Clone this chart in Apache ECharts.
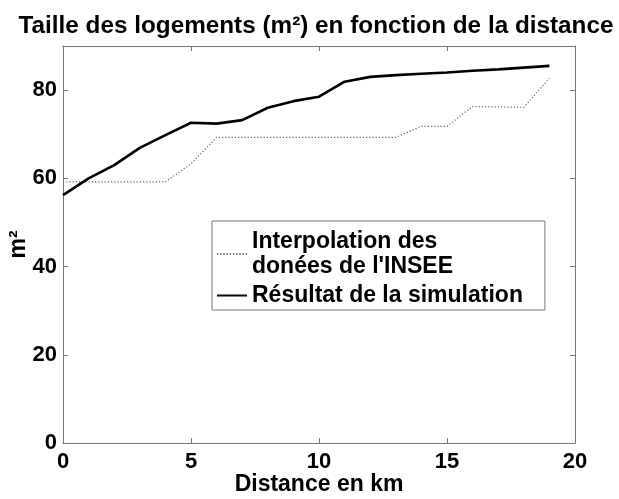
<!DOCTYPE html>
<html>
<head>
<meta charset="utf-8">
<script src="https://cdn.jsdelivr.net/npm/echarts@6/dist/echarts.min.js"></script>
<style>
html,body{margin:0;padding:0;background:#fff;}
#chart{width:619px;height:499px;}
</style>
</head>
<body>
<div id="chart"></div>
<script>
const distances = [0,1,2,3,4,5,6,7,8,9,10,11,12,13,14,15,16,17,18,19];
const insee = [59.2,59.2,59.2,59.2,59.2,63.3,69.3,69.3,69.3,69.3,69.3,69.3,69.3,69.3,71.8,71.8,76.3,76.2,76.1,82.7];
const simulation = [56.2,60.0,63.0,66.9,69.8,72.6,72.4,73.2,76.0,77.5,78.5,81.9,83.0,83.4,83.7,84.0,84.4,84.7,85.1,85.5];
const xTicks = [0,5,10,15,20];
const yTicks = [0,20,40,60,80];

const FONT = '"Liberation Sans", Arial, sans-serif';
const AXC = '#777';

const chart = echarts.init(document.getElementById('chart'), null, {renderer:'canvas'});

function pairs(xs, ys){ return xs.map((x,i)=>[x, ys[i]]); }

const commonLine = {show:true, onZero:false, lineStyle:{color:AXC, width:1}};
const commonTick = {show:true, inside:true, length:5, lineStyle:{color:AXC, width:1}};

chart.setOption({
  backgroundColor:'#fff',
  animation:false,
  title:{
    text:'Taille des logements (m²) en fonction de la distance',
    left:311, top:9, textAlign:'center',
    textStyle:{fontFamily:FONT, fontSize:24.3, fontWeight:'bold', color:'#000'}
  },
  grid:{left:63, right:44, top:46, bottom:56, containLabel:false, outerBoundsMode:'none'},
  xAxis:[{
    type:'value', position:'bottom', min:xTicks[0], max:xTicks[xTicks.length-1], interval:5,
    name:'Distance en km', nameLocation:'middle', nameGap:30, nameMoveOverlap:false,
    nameTextStyle:{fontFamily:FONT, fontSize:23, fontWeight:'bold', color:'#000'},
    axisLine:commonLine, axisTick:commonTick, splitLine:{show:false},
    axisLabel:{fontFamily:FONT, fontSize:22, fontWeight:'bold', color:'#000', margin:8}
  },{
    type:'value', position:'top', min:xTicks[0], max:xTicks[xTicks.length-1], interval:5,
    axisLine:commonLine, axisTick:commonTick, splitLine:{show:false}, axisLabel:{show:false}
  }],
  yAxis:[{
    type:'value', position:'left', min:yTicks[0], max:90, interval:20,
    name:'m²', nameLocation:'middle', nameGap:33, nameRotate:90, nameMoveOverlap:false,
    nameTextStyle:{fontFamily:FONT, fontSize:23, fontWeight:'bold', color:'#000'},
    axisLine:commonLine, axisTick:commonTick, splitLine:{show:false},
    axisLabel:{fontFamily:FONT, fontSize:22, fontWeight:'bold', color:'#000', margin:6, showMaxLabel:false}
  },{
    type:'value', position:'right', min:yTicks[0], max:90, interval:20,
    axisLine:commonLine, axisTick:commonTick, splitLine:{show:false}, axisLabel:{show:false}
  }],
  legend:{
    orient:'vertical', left:212, top:221,
    backgroundColor:'#fff', borderColor:AXC, borderWidth:1,
    padding:[8,22,2,4], itemGap:4, itemWidth:30, itemHeight:14,
    itemStyle:{opacity:0},
    textStyle:{fontFamily:FONT, fontSize:23, fontWeight:'bold', color:'#000', lineHeight:25},
    formatter:function(n){ return n === 'Interpolation des donées de l\'INSEE' ? 'Interpolation des\ndonées de l\'INSEE' : n; },
    data:['Interpolation des donées de l\'INSEE','Résultat de la simulation']
  },
  series:[{
    name:'Interpolation des donées de l\'INSEE',
    type:'line', xAxisIndex:0, yAxisIndex:0,
    data:pairs(distances, insee), symbol:'none',
    lineStyle:{color:'#666', width:1.2, type:[1.2,2]},
    itemStyle:{color:'#666'}
  },{
    name:'Résultat de la simulation',
    type:'line', xAxisIndex:0, yAxisIndex:0,
    data:pairs(distances, simulation), symbol:'none',
    lineStyle:{color:'#000', width:2.6},
    itemStyle:{color:'#000'}
  }]
});
</script>
</body>
</html>
